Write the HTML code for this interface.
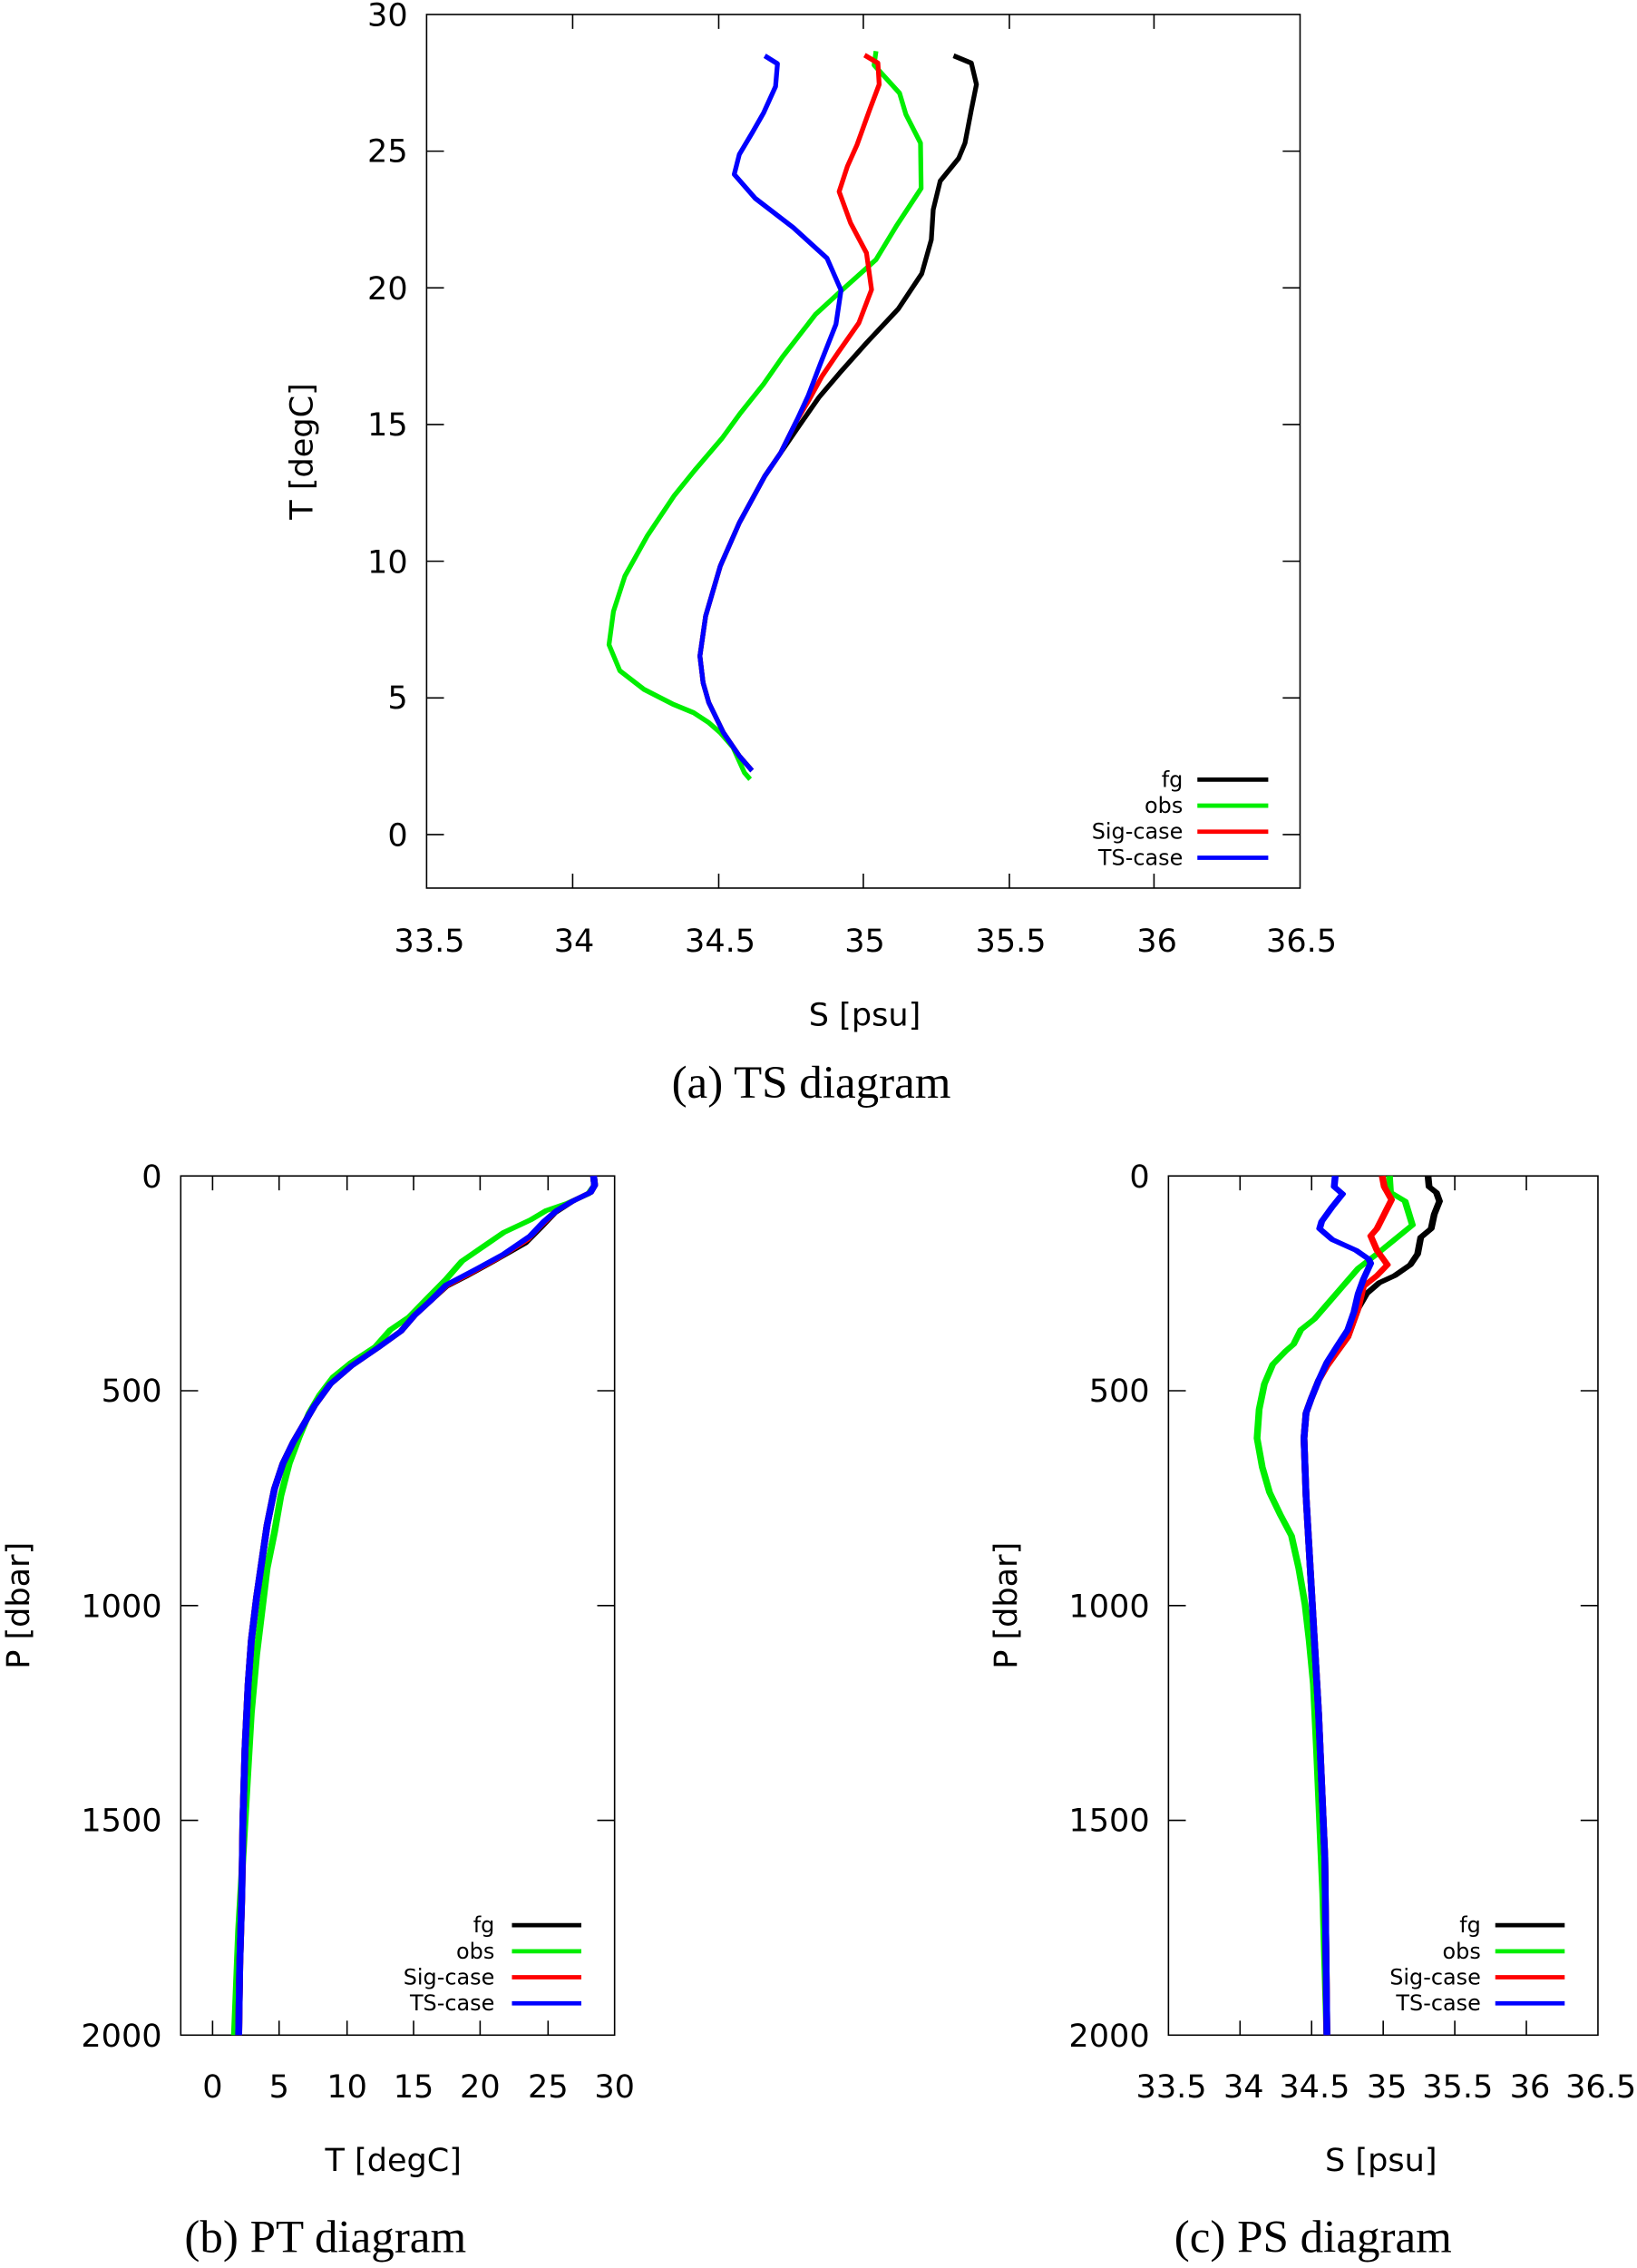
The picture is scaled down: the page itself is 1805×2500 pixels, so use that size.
<!DOCTYPE html>
<html><head><meta charset="utf-8"><style>
html,body{margin:0;padding:0;background:#fff}
svg{display:block}
text{font-family:"DejaVu Sans","Liberation Sans",sans-serif;fill:#000}
.cap{font-family:"Liberation Serif",serif;font-size:32px}
.tk{font-size:22px}
.lg{font-size:15px}
</style></head><body>
<svg width="1805" height="2500" viewBox="0 0 1132 1568" preserveAspectRatio="none" xmlns="http://www.w3.org/2000/svg">
<!-- Plot (a) -->
<rect x="295" y="10" width="604" height="604" fill="none" stroke="#000" stroke-width="1"/>
<g stroke="#000" stroke-width="1">
<path d="M396 614v-10M497 614v-10M597 614v-10M698 614v-10M798 614v-10M396 10v10M497 10v10M597 10v10M698 10v10M798 10v10"/>
<path d="M295 577h12M295 482.5h12M295 388h12M295 293.5h12M295 199h12M295 104.5h12M899 577h-12M899 482.5h-12M899 388h-12M899 293.5h-12M899 199h-12M899 104.5h-12"/>
</g>
<g class="tk" text-anchor="end">
<text x="282" y="585">0</text><text x="282" y="490">5</text><text x="282" y="396">10</text><text x="282" y="301">15</text><text x="282" y="207">20</text><text x="282" y="112">25</text><text x="282" y="18">30</text>
</g>
<g class="tk" text-anchor="middle">
<text x="297" y="658">33.5</text><text x="397" y="658">34</text><text x="498" y="658">34.5</text><text x="598" y="658">35</text><text x="699" y="658">35.5</text><text x="800" y="658">36</text><text x="900" y="658">36.5</text>
<text x="598" y="709">S [psu]</text>
<text transform="translate(216,312) rotate(-90)">T [degC]</text>
</g>
<text class="cap" x="561" y="759" text-anchor="middle">(a) TS diagram</text>
<g fill="none" stroke-width="7.5" stroke-linejoin="round" transform="matrix(0.4396 0 0 0.4606 238.7 -0.13)">
<polyline stroke="#00ee00" points="835,77 832,98 872,140 882,172 905,215 906,283 868,338 835,390 780,437 740,472 688,536 658,577 622,620 593,658 550,706 517,745 475,805 440,865 422,918 415,968 432,1007 470,1035 515,1057 548,1070 572,1085 590,1100 610,1122 628,1160 637,1170"/>
<polyline stroke="#000" points="957,84 985,95 993,127 985,165 975,215 965,238 936,272 925,315 922,360 907,411 870,464 820,515 778,560 745,597 710,645 685,680 660,715 620,785 590,850 567,925 558,985 563,1025 572,1055 595,1100 620,1135 640,1157"/>
<polyline stroke="#ff0000" points="817,83 838,95 840,127 825,165 805,218 790,250 777,288 795,335 820,380 828,435 808,485 775,530 750,565 730,600 710,632 685,680 660,715 620,785 590,850 567,925 558,985 563,1025 572,1055 595,1100 620,1135 640,1157"/>
<polyline stroke="#0000ff" points="660,84 680,96 677,130 658,170 640,200 620,232 612,262 645,298 705,342 758,388 780,436 772,487 748,545 728,595 710,632 685,680 660,715 620,785 590,850 567,925 558,985 563,1025 572,1055 595,1100 620,1135 640,1157"/>
</g>
<g stroke-width="3">
<line x1="828" y1="539" x2="877" y2="539" stroke="#000"/>
<line x1="828" y1="557" x2="877" y2="557" stroke="#00ee00"/>
<line x1="828" y1="575" x2="877" y2="575" stroke="#ff0000"/>
<line x1="828" y1="593" x2="877" y2="593" stroke="#0000ff"/>
</g>
<g class="lg" text-anchor="end">
<text x="818" y="544">fg</text><text x="818" y="562">obs</text><text x="818" y="580">Sig-case</text><text x="818" y="598">TS-case</text>
</g>

<!-- Plot (b) -->
<rect x="125" y="813" width="300" height="594" fill="none" stroke="#000" stroke-width="1"/>
<g stroke="#000" stroke-width="1">
<path d="M147 1407v-10M193 1407v-10M240 1407v-10M286 1407v-10M332 1407v-10M379 1407v-10M147 813v10M193 813v10M240 813v10M286 813v10M332 813v10M379 813v10"/>
<path d="M125 961.5h12M125 1110h12M125 1258.5h12M425 961.5h-12M425 1110h-12M425 1258.5h-12"/>
</g>
<g class="tk" text-anchor="end">
<text x="112" y="821">0</text><text x="112" y="969">500</text><text x="112" y="1118">1000</text><text x="112" y="1266">1500</text><text x="112" y="1415">2000</text>
</g>
<g class="tk" text-anchor="middle">
<text x="147" y="1450">0</text><text x="193" y="1450">5</text><text x="240" y="1450">10</text><text x="286" y="1450">15</text><text x="332" y="1450">20</text><text x="379" y="1450">25</text><text x="425" y="1450">30</text>
<text x="272" y="1501">T [degC]</text>
<text transform="translate(20,1110) rotate(-90)">P [dbar]</text>
</g>
<text class="cap" x="225" y="1557" text-anchor="middle">(b) PT diagram</text>
<g fill="none" stroke-width="6.5" stroke-linejoin="round" transform="matrix(0.7282 0 0 0.4996 -0.98 784.5)">
<polyline stroke="#00ee00" points="565,57 566,70 560,82 540,95 520,105 505,118 480,135 460,155 440,175 425,200 408,225 390,252 372,270 358,293 335,315 318,335 305,360 295,385 285,420 276,455 268,500 262,550 255,600 250,660 245,720 240,800 236,900 232,1000 228,1100 224,1246"/>
<polyline stroke="#000" points="565,57 566,70 562,80 545,92 528,108 515,128 500,150 470,175 445,195 425,210 410,230 395,250 382,272 360,295 335,320 315,345 300,375 290,400 280,425 270,455 262,490 255,540 250,590 245,640 240,700 237,760 234,850 232,950 231,1050 229,1150 228,1246"/>
<polyline stroke="#ff0000" points="565,57 566,70 562,80 545,92 529,106 516,124 502,145 475,170 450,190 425,209 410,230 395,250 382,272 360,295 335,320 315,345 300,375 290,400 280,425 270,455 262,490 255,540 250,590 245,640 240,700 237,760 234,850 232,950 231,1050 229,1150 228,1246"/>
<polyline stroke="#0000ff" points="565,57 566,70 562,80 545,92 530,105 518,120 505,140 480,165 455,185 425,208 410,230 395,250 382,272 360,295 335,320 315,345 300,375 290,400 280,425 270,455 262,490 255,540 250,590 245,640 240,700 237,760 234,850 232,950 231,1050 229,1150 228,1246"/>
</g>
<g stroke-width="3">
<line x1="354" y1="1331" x2="402" y2="1331" stroke="#000"/>
<line x1="354" y1="1349" x2="402" y2="1349" stroke="#00ee00"/>
<line x1="354" y1="1367" x2="402" y2="1367" stroke="#ff0000"/>
<line x1="354" y1="1385" x2="402" y2="1385" stroke="#0000ff"/>
</g>
<g class="lg" text-anchor="end">
<text x="342" y="1336">fg</text><text x="342" y="1354">obs</text><text x="342" y="1372">Sig-case</text><text x="342" y="1390">TS-case</text>
</g>

<!-- Plot (c) -->
<rect x="808" y="813" width="297" height="594" fill="none" stroke="#000" stroke-width="1"/>
<g stroke="#000" stroke-width="1">
<path d="M857.5 1407v-10M907 1407v-10M956.5 1407v-10M1006 1407v-10M1055.5 1407v-10M857.5 813v10M907 813v10M956.5 813v10M1006 813v10M1055.5 813v10"/>
<path d="M808 961.5h12M808 1110h12M808 1258.5h12M1105 961.5h-12M1105 1110h-12M1105 1258.5h-12"/>
</g>
<g class="tk" text-anchor="end">
<text x="795" y="821">0</text><text x="795" y="969">500</text><text x="795" y="1118">1000</text><text x="795" y="1266">1500</text><text x="795" y="1415">2000</text>
</g>
<g class="tk" text-anchor="middle">
<text x="810" y="1450">33.5</text><text x="860" y="1450">34</text><text x="909" y="1450">34.5</text><text x="959" y="1450">35</text><text x="1008" y="1450">35.5</text><text x="1058" y="1450">36</text><text x="1107" y="1450">36.5</text>
<text x="955" y="1501">S [psu]</text>
<text transform="translate(703,1110) rotate(-90)">P [dbar]</text>
</g>
<text class="cap" x="908" y="1557" text-anchor="middle">(c) PS diagram</text>
<g fill="none" stroke-width="6.5" stroke-linejoin="round" transform="matrix(0.7209 0 0 0.4996 2.03 784.5)">
<polyline stroke="#00ee00" points="1330,57 1331,80 1345,92 1352,125 1335,145 1318,165 1300,185 1285,210 1270,235 1258,255 1245,270 1238,290 1230,300 1218,318 1210,345 1205,380 1203,420 1208,460 1215,495 1225,525 1236,555 1243,600 1249,650 1253,700 1257,760 1260,850 1263,950 1266,1050 1268,1150 1270,1246"/>
<polyline stroke="#000" points="1367,57 1368,72 1375,80 1378,92 1373,110 1370,130 1360,142 1357,165 1350,180 1335,195 1320,205 1308,220 1300,240 1295,260 1290,280 1280,300 1270,320 1262,340 1255,365 1250,385 1248,420 1250,500 1254,600 1258,700 1262,800 1265,900 1268,1000 1270,1246"/>
<polyline stroke="#ff0000" points="1323,57 1325,72 1332,90 1325,110 1318,130 1312,140 1318,160 1328,180 1318,195 1305,210 1300,240 1295,260 1290,280 1280,300 1270,320 1262,340 1255,365 1250,385 1248,420 1250,500 1254,600 1258,700 1262,800 1265,900 1268,1000 1270,1246"/>
<polyline stroke="#0000ff" points="1278,57 1277,72 1285,82 1275,100 1265,120 1263,130 1275,145 1298,160 1310,172 1312,178 1305,200 1300,220 1296,245 1290,270 1280,292 1270,315 1262,340 1255,365 1250,385 1248,420 1250,500 1254,600 1258,700 1262,800 1265,900 1268,1000 1270,1246"/>
</g>
<g stroke-width="3">
<line x1="1034" y1="1331" x2="1082" y2="1331" stroke="#000"/>
<line x1="1034" y1="1349" x2="1082" y2="1349" stroke="#00ee00"/>
<line x1="1034" y1="1367" x2="1082" y2="1367" stroke="#ff0000"/>
<line x1="1034" y1="1385" x2="1082" y2="1385" stroke="#0000ff"/>
</g>
<g class="lg" text-anchor="end">
<text x="1024" y="1336">fg</text><text x="1024" y="1354">obs</text><text x="1024" y="1372">Sig-case</text><text x="1024" y="1390">TS-case</text>
</g>
</svg>
</body></html>
